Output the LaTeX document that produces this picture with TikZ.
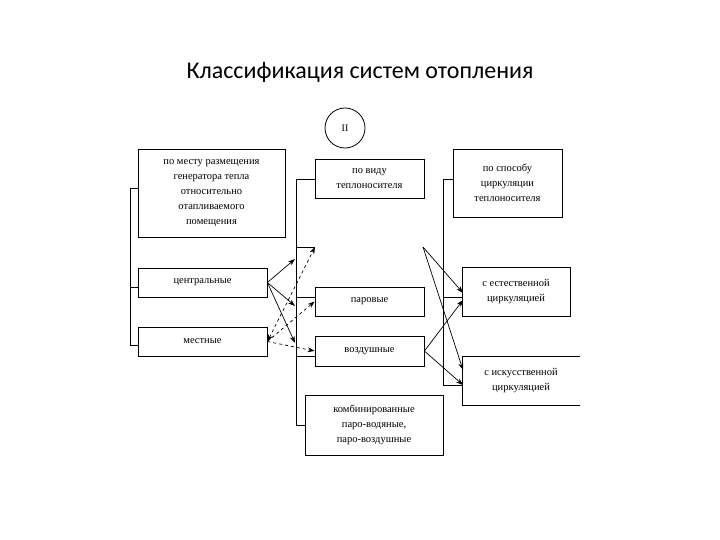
\documentclass[tikz,border=0pt]{standalone}
\usepackage{fontspec}
\setmainfont{Liberation Serif}
\newfontfamily\titlefont{Carlito}
\usetikzlibrary{arrows.meta}
\begin{document}
\begin{tikzpicture}[x=1pt,y=-1pt,
  bx/.style={draw,line width=0.8pt,align=center,font=\fontsize{10.5}{15}\selectfont,inner sep=0pt},
  ln/.style={line width=0.7pt},
  ar/.style={ln,-{Stealth[length=7pt,width=5pt]}},
  da/.style={ar,dashed}]
\useasboundingbox (0,0) rectangle (720,540);
\node[font=\titlefont\fontsize{24}{28}\selectfont] (title) at (360,72) {Классификация систем отопления};
\node[draw,circle,line width=0.8pt,minimum size=40pt,inner sep=0pt,font=\fontsize{10}{12}\selectfont] (ii) at (345,128) {II};
% left column
\node[bx,minimum width=147pt,minimum height=88pt] (place) at (211.5,193) {по месту размещения\\генератора тепла\\относительно\\отапливаемого\\помещения};
\node[bx,minimum width=129pt,minimum height=29pt] (central) at (202.5,282.5) {центральные};
\node[bx,minimum width=129pt,minimum height=29pt] (local) at (202.5,341.5) {местные};
\draw[ln] (138,188) -- (130,188) -- (130,345) -- (138,345);
\draw[ln] (130,287) -- (138,287);
% middle column
\node[bx,minimum width=109pt,minimum height=39pt] (kind) at (369.5,178.5) {по виду\\теплоносителя};
\coordinate (water) at (369.5,247);
\coordinate (waterL) at (315,247);
\coordinate (waterR) at (423,247);
\node[bx,minimum width=109pt,minimum height=29pt] (steam) at (369.5,301.5) {паровые};
\node[bx,minimum width=109pt,minimum height=30pt] (air) at (369.5,351) {воздушные};
\node[bx,minimum width=138pt,minimum height=60pt] (comb) at (374,425) {комбинированные\\паро-водяные,\\паро-воздушные};
\draw[ln] (315,179) -- (296,179) -- (296,425) -- (305,425);
\draw[ln] (296,247) -- (315,247);
\draw[ln] (296,297) -- (315,297);
\draw[ln] (296,356) -- (315,356);
% right column
\node[bx,minimum width=109pt,minimum height=68pt] (circ) at (507.5,183) {по способу\\циркуляции\\теплоносителя};
\node[bx,minimum width=108pt,minimum height=49pt] (nat) at (516,291.5) {с естественной\\циркуляцией};
\node[align=center,font=\fontsize{10.5}{15}\selectfont,inner sep=0pt,minimum width=118pt,minimum height=49pt] (forced) at (521,380.5) {с искусственной\\циркуляцией};
\draw[line width=0.8pt] (580,356) -- (462,356) -- (462,405) -- (580,405);
\draw[ln] (453,179) -- (443,179) -- (443,385) -- (462,385);
\draw[ln] (443,297) -- (462,297);
% arrows
\draw[ar] (central.east) -- (295,259);
\draw[ar] (central.east) -- (295,306);
\draw[ar] (central.east) -- (295,343);
\draw[da,{Stealth[length=7pt,width=5pt]}-{Stealth[length=7pt,width=5pt]}] (local.east) -- (waterL);
\draw[da] (local.east) -- (steam.west);
\draw[da] (local.east) -- (air.west);
\draw[ar] (waterR) -- (463,293);
\draw[ar] (waterR) -- (463,370);
\draw[ar] (air.east) -- (463,300);
\draw[ar] (air.east) -- (463,385);
\end{tikzpicture}
\end{document}
